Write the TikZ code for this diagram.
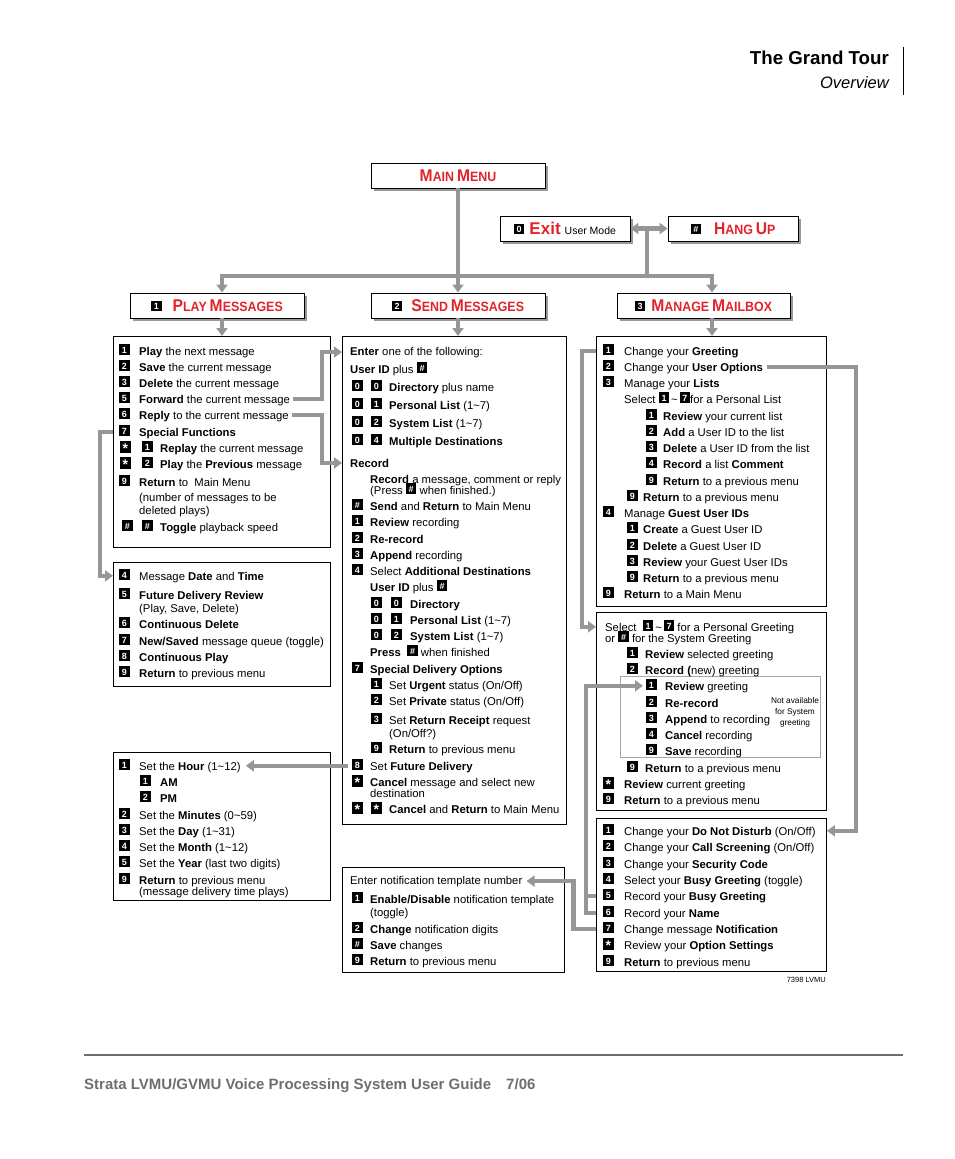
\documentclass[tikz,border=0pt]{standalone}
\usepackage{fontspec}
\setmainfont{Liberation Sans}
\usepackage{graphicx}
\usetikzlibrary{arrows.meta,shadows,calc}
\definecolor{hred}{RGB}{226,36,44}
\definecolor{cgray}{RGB}{150,150,150}
\definecolor{fgray}{RGB}{110,110,110}
\newcommand\keyb[1]{\raisebox{2pt}{\setlength\fboxsep{0pt}\colorbox{black}{\makebox[10.5pt]{\rule[-1.8pt]{0pt}{10.5pt}\color{white}\fontsize{9}{9}\selectfont\bfseries#1}}}}
\newcommand\starg{\raisebox{-3pt}{\fontsize{14}{14}\selectfont *}}
\newcommand\KY[2][20pt]{\makebox[#1][l]{\keyb{#2}}}
\newcommand\hdr[2]{\textbf{\fontsize{17}{17}\selectfont #1\fontsize{13.5}{13.5}\selectfont #2}}
\newcommand\TX[4]{\node[txt] (#1) at (#2,#3) {#4};}
\begin{document}
\begin{tikzpicture}[x=1pt,y=-1pt,font=\fontsize{11.3}{13}\selectfont,
  txt/.style={anchor=base west,inner sep=0pt},
  cbox/.style={draw,line width=0.9pt,anchor=north west,inner sep=0pt},
  hbox/.style={draw,line width=0.9pt,fill=white,inner sep=0pt,minimum height=25pt,
     drop shadow={shadow xshift=3pt,shadow yshift=-3pt,fill=black!40,opacity=1}},
  conn/.style={draw=cgray,line width=4.5pt},
  arr/.style={conn,-{Triangle[width=11pt,length=8pt]}}]
\useasboundingbox (0,0) rectangle (954,1159);

% title
\node[anchor=base east,inner sep=0pt,font=\fontsize{18.7}{20}\selectfont\bfseries] (title) at (889,64) {The Grand Tour};
\node[anchor=base east,inner sep=0pt,font=\fontsize{16.5}{18}\selectfont\itshape] (sub) at (889,88) {Overview};
\coordinate (tl1) at (903,47); \coordinate (tl2) at (903,95);
\draw[line width=0.9pt] (tl1) -- (tl2);

% footer
\coordinate (fl1) at (84,1055); \coordinate (fl2) at (903,1055);
\draw[fgray,line width=1.3pt] (fl1) -- (fl2);
\node[anchor=base west,inner sep=0pt,font=\fontsize{15}{17}\selectfont\bfseries,text=fgray] (foot) at (84,1089) {Strata LVMU/GVMU Voice Processing System User Guide\hspace{15pt}7/06};

% header boxes
\node[hbox,minimum width=174pt] (mm) at (458,175.5) {\color{hred}\scalebox{0.92}[1]{\hdr{M}{AIN} \hdr{M}{ENU}}};
\node[hbox,minimum width=130pt] (ex) at (565,228.5) {\keyb{0}\hspace{5pt}{\color{hred}\bfseries\fontsize{17}{17}\selectfont Exit}\hspace{4pt}{\fontsize{10.5}{12}\selectfont User Mode}};
\node[hbox,minimum width=130pt] (hu) at (733,228.5) {\keyb{\#}\hspace{13pt}{\color{hred}\scalebox{0.92}[1]{\hdr{H}{ANG} \hdr{U}{P}}}};
\node[hbox,minimum width=174pt] (pm) at (217,305.5) {\keyb{1}\hspace{11pt}{\color{hred}\scalebox{0.92}[1]{\hdr{P}{LAY} \hdr{M}{ESSAGES}}}};
\node[hbox,minimum width=174pt] (sm) at (458,305.5) {\keyb{2}\hspace{9pt}{\color{hred}\scalebox{0.92}[1]{\hdr{S}{END} \hdr{M}{ESSAGES}}}};
\node[hbox,minimum width=173pt] (mg) at (703.5,305.5) {\keyb{3}\hspace{6pt}{\color{hred}\scalebox{0.92}[1]{\hdr{M}{ANAGE} \hdr{M}{AILBOX}}}};

% content boxes
\node[cbox,minimum width=217pt,minimum height=211pt] (pbox) at (113,336) {};
\node[cbox,minimum width=217pt,minimum height=124pt] (obox) at (113,562) {};
\node[cbox,minimum width=217pt,minimum height=148pt] (fbox) at (113,752) {};
\node[cbox,minimum width=224pt,minimum height=488pt] (sbox) at (342,336) {};
\node[cbox,minimum width=222pt,minimum height=105pt] (nbox) at (342,867) {};
\node[cbox,minimum width=230pt,minimum height=270pt] (mbox) at (596,336) {};
\node[cbox,minimum width=230pt,minimum height=198pt] (gbox) at (596,612) {};
\node[cbox,minimum width=230pt,minimum height=153pt] (ubox) at (596,818) {};
\node[cbox,draw=black!35,line width=0.8pt,minimum width=200pt,minimum height=81pt] (ibox) at (620,676) {};

% play box
\TX{p1}{119}{355}{\KY{1}\textbf{Play} the next message}
\TX{p2}{119}{371}{\KY{2}\textbf{Save} the current message}
\TX{p3}{119}{387}{\KY{3}\textbf{Delete} the current message}
\TX{p4}{119}{403}{\KY{5}\textbf{Forward} the current message}
\TX{p5}{119}{419}{\KY{6}\textbf{Reply} to the current message}
\TX{p6}{119}{436}{\KY{7}\textbf{Special Functions}}
\TX{p7}{120}{452}{\KY[22pt]{\starg}\KY[18pt]{1}\textbf{Replay} the current message}
\TX{p8}{120}{468}{\KY[22pt]{\starg}\KY[18pt]{2}\textbf{Play} the \textbf{Previous} message}
\TX{p9}{119}{486}{\KY{9}\textbf{Return} to\ \ Main Menu}
\TX{p10}{139}{501}{(number of messages to be}
\TX{p11}{139}{514}{deleted plays)}
\TX{p12}{122}{531}{\KY[20pt]{\#}\KY[18pt]{\#}\textbf{Toggle} playback speed}

% options box
\TX{o1}{119}{580}{\KY{4}Message \textbf{Date} and \textbf{Time}}
\TX{o2}{119}{599}{\KY{5}\textbf{Future Delivery Review}}
\TX{o3}{139}{612}{(Play, Save, Delete)}
\TX{o4}{119}{628}{\KY{6}\textbf{Continuous Delete}}
\TX{o5}{119}{645}{\KY{7}\textbf{New/Saved} message queue (toggle)}
\TX{o6}{119}{661}{\KY{8}\textbf{Continuous Play}}
\TX{o7}{119}{677}{\KY{9}\textbf{Return} to previous menu}

% future delivery box
\TX{f1}{119}{770}{\KY{1}Set the \textbf{Hour} (1\textasciitilde12)}
\TX{f2}{140}{786}{\KY[20pt]{1}\textbf{AM}}
\TX{f3}{140}{802}{\KY[20pt]{2}\textbf{PM}}
\TX{f4}{119}{819}{\KY{2}Set the \textbf{Minutes} (0\textasciitilde59)}
\TX{f5}{119}{835}{\KY{3}Set the \textbf{Day} (1\textasciitilde31)}
\TX{f6}{119}{851}{\KY{4}Set the \textbf{Month} (1\textasciitilde12)}
\TX{f7}{119}{867}{\KY{5}Set the \textbf{Year} (last two digits)}
\TX{f8}{119}{884}{\KY{9}\textbf{Return} to previous menu}
\TX{f9}{139}{895}{(message delivery time plays)}

% send box
\TX{s1}{350}{355}{\textbf{Enter} one of the following:}
\TX{s2}{350}{373}{\textbf{User ID} plus \keyb{\#}}
\TX{s3}{352}{391}{\KY[19pt]{0}\KY[18pt]{0}\textbf{Directory} plus name}
\TX{s4}{352}{409}{\KY[19pt]{0}\KY[18pt]{1}\textbf{Personal List} (1\textasciitilde7)}
\TX{s5}{352}{427}{\KY[19pt]{0}\KY[18pt]{2}\textbf{System List} (1\textasciitilde7)}
\TX{s6}{352}{445}{\KY[19pt]{0}\KY[18pt]{4}\textbf{Multiple Destinations}}
\TX{s7}{350}{467}{\textbf{Record}}
\TX{s8}{370}{483}{\textbf{Record} a message, comment or reply}
\TX{s9}{370}{494}{(Press \keyb{\#} when finished.)}
\TX{s10}{352}{510}{\KY[18pt]{\#}\textbf{Send} and \textbf{Return} to Main Menu}
\TX{s11}{352}{526}{\KY[18pt]{1}\textbf{Review} recording}
\TX{s12}{352}{543}{\KY[18pt]{2}\textbf{Re-record}}
\TX{s13}{352}{559}{\KY[18pt]{3}\textbf{Append} recording}
\TX{s14}{352}{575}{\KY[18pt]{4}Select \textbf{Additional Destinations}}
\TX{s15}{370}{591}{\textbf{User ID} plus \keyb{\#}}
\TX{s16}{371}{608}{\KY[20pt]{0}\KY[19pt]{0}\textbf{Directory}}
\TX{s17}{371}{624}{\KY[20pt]{0}\KY[19pt]{1}\textbf{Personal List} (1\textasciitilde7)}
\TX{s18}{371}{640}{\KY[20pt]{0}\KY[19pt]{2}\textbf{System List} (1\textasciitilde7)}
\TX{s19}{370}{656}{\textbf{Press}\ \ \keyb{\#} when finished}
\TX{s20}{352}{673}{\KY[18pt]{7}\textbf{Special Delivery Options}}
\TX{s21}{371}{689}{\KY[18pt]{1}Set \textbf{Urgent} status (On/Off)}
\TX{s22}{371}{705}{\KY[18pt]{2}Set \textbf{Private} status (On/Off)}
\TX{s23}{371}{724}{\KY[18pt]{3}Set \textbf{Return Receipt} request}
\TX{s24}{389}{737}{(On/Off?)}
\TX{s25}{371}{753}{\KY[18pt]{9}\textbf{Return} to previous menu}
\TX{s26}{352}{770}{\KY[18pt]{8}Set \textbf{Future Delivery}}
\TX{s27}{352}{786}{\KY[18pt]{\starg}\textbf{Cancel} message and select new}
\TX{s28}{370}{797}{destination}
\TX{s29}{352}{813}{\KY[19pt]{\starg}\KY[18pt]{\starg}\textbf{Cancel} and \textbf{Return} to Main Menu}

% notification box
\TX{n1}{350}{884}{Enter notification template number}
\TX{n2}{352}{903}{\KY[18pt]{1}\textbf{Enable/Disable} notification template}
\TX{n3}{370}{916}{(toggle)}
\TX{n4}{352}{933}{\KY[18pt]{2}\textbf{Change} notification digits}
\TX{n5}{352}{949}{\KY[18pt]{\#}\textbf{Save} changes}
\TX{n6}{352}{965}{\KY[18pt]{9}\textbf{Return} to previous menu}

% manage box
\TX{m1}{603}{355}{\KY[21pt]{1}Change your \textbf{Greeting}}
\TX{m2}{603}{371}{\KY[21pt]{2}Change your \textbf{User Options}}
\TX{m3}{603}{387}{\KY[21pt]{3}Manage your \textbf{Lists}}
\TX{m4}{624}{403}{Select \keyb{1}\,\textasciitilde\,\keyb{7}for a Personal List}
\TX{m5}{646}{420}{\KY[17pt]{1}\textbf{Review} your current list}
\TX{m6}{646}{436}{\KY[17pt]{2}\textbf{Add} a User ID to the list}
\TX{m7}{646}{452}{\KY[17pt]{3}\textbf{Delete} a User ID from the list}
\TX{m8}{646}{468}{\KY[17pt]{4}\textbf{Record} a list \textbf{Comment}}
\TX{m9}{646}{485}{\KY[17pt]{9}\textbf{Return} to a previous menu}
\TX{m10}{627}{501}{\KY[16pt]{9}\textbf{Return} to a previous menu}
\TX{m11}{603}{517}{\KY[21pt]{4}Manage \textbf{Guest User IDs}}
\TX{m12}{627}{533}{\KY[16pt]{1}\textbf{Create} a Guest User ID}
\TX{m13}{627}{550}{\KY[16pt]{2}\textbf{Delete} a Guest User ID}
\TX{m14}{627}{566}{\KY[16pt]{3}\textbf{Review} your Guest User IDs}
\TX{m15}{627}{582}{\KY[16pt]{9}\textbf{Return} to a previous menu}
\TX{m16}{603}{598}{\KY[21pt]{9}\textbf{Return} to a Main Menu}

% greeting box
\TX{g1}{605}{631}{Select\ \ \keyb{1}\,\textasciitilde\,\keyb{7}\ for a Personal Greeting}
\TX{g2}{605}{642}{or \keyb{\#} for the System Greeting}
\TX{g3}{627}{658}{\KY[18pt]{1}\textbf{Review} selected greeting}
\TX{g4}{627}{674}{\KY[18pt]{2}\textbf{Record (}new) greeting}
\TX{g5}{646}{690}{\KY[19pt]{1}\textbf{Review} greeting}
\TX{g6}{646}{707}{\KY[19pt]{2}\textbf{Re-record}}
\TX{g7}{646}{723}{\KY[19pt]{3}\textbf{Append} to recording}
\TX{g8}{646}{739}{\KY[19pt]{4}\textbf{Cancel} recording}
\TX{g9}{646}{755}{\KY[19pt]{9}\textbf{Save} recording}
\node[align=center,inner sep=0pt,font=\fontsize{8.3}{11}\selectfont] (na) at (795,712) {Not available\\for System\\greeting};
\TX{g10}{627}{772}{\KY[18pt]{9}\textbf{Return} to a previous menu}
\TX{g11}{603}{788}{\KY[21pt]{\starg}\textbf{Review} current greeting}
\TX{g12}{603}{804}{\KY[21pt]{9}\textbf{Return} to a previous menu}

% user options box
\TX{u1}{603}{835}{\KY[21pt]{1}Change your \textbf{Do Not Disturb} (On/Off)}
\TX{u2}{603}{851}{\KY[21pt]{2}Change your \textbf{Call Screening} (On/Off)}
\TX{u3}{603}{868}{\KY[21pt]{3}Change your \textbf{Security Code}}
\TX{u4}{603}{884}{\KY[21pt]{4}Select your \textbf{Busy Greeting} (toggle)}
\TX{u5}{603}{900}{\KY[21pt]{5}Record your \textbf{Busy Greeting}}
\TX{u6}{603}{917}{\KY[21pt]{6}Record your \textbf{Name}}
\TX{u7}{603}{933}{\KY[21pt]{7}Change message \textbf{Notification}}
\TX{u8}{603}{949}{\KY[21pt]{\starg}Review your \textbf{Option Settings}}
\TX{u9}{603}{966}{\KY[21pt]{9}\textbf{Return} to previous menu}
\node[anchor=base east,inner sep=0pt,font=\fontsize{7.5}{9}\selectfont] (code) at (826,982) {7398 LVMU};

% connectors
\coordinate (hub) at (458,276);
\coordinate (pa) at (222,276);
\coordinate (ma) at (712,276);
\coordinate (xa) at (647,276);
\draw[conn] (mm.south) -- (hub);
\draw[arr] (hub) -- (sm.north);
\draw[arr] (hub) -- (pa) -- (pa |- pm.north);
\draw[arr] (hub) -- (ma) -- (ma |- mg.north);
\draw[conn] (xa) -- (xa |- ex.east);
\draw[arr] (xa |- ex.east) -- (ex.east);
\draw[arr] (xa |- ex.east) -- (hu.west);
\draw[arr] (pa |- pm.south) -- (pa |- pbox.north);
\draw[arr] (sm.south) -- (sm.south |- sbox.north);
\draw[arr] (ma |- mg.south) -- (ma |- mbox.north);

\draw[arr] ([xshift=3pt]p4.east) -| ($(sbox.west |- s1.west)+(-20,0)$) -- (sbox.west |- s1.west);
\draw[arr] ([xshift=3pt]p5.east) -| ($(sbox.west |- s7.west)+(-20,0)$) -- (sbox.west |- s7.west);
\draw[arr] (pbox.west |- p6.west) -- ++(-13,0) |- (obox.west |- o1.west);
\draw[arr] ([xshift=-4pt]s26.west) -- ([xshift=5pt]s26.west -| f1.east);
\draw[arr] (mbox.west |- m1.west) -- ++(-14,0) |- (gbox.west |- g1.west);
\draw[arr] ([xshift=4pt]m2.east) -| ($(ubox.east |- u1.west)+(29,0)$) -- (ubox.east |- u1.west);
\draw[conn] (ubox.west |- u5.west) -- ++(-10,0);
\draw[arr] (ubox.west |- u6.west) -| ($(g5.west)+(-60,0)$) -- ([xshift=-3pt]g5.west);
\draw[arr] (ubox.west |- u7.west) -| ($(n1.east)+(51,0)$) -- ([xshift=4pt]n1.east);
\end{tikzpicture}
\end{document}
